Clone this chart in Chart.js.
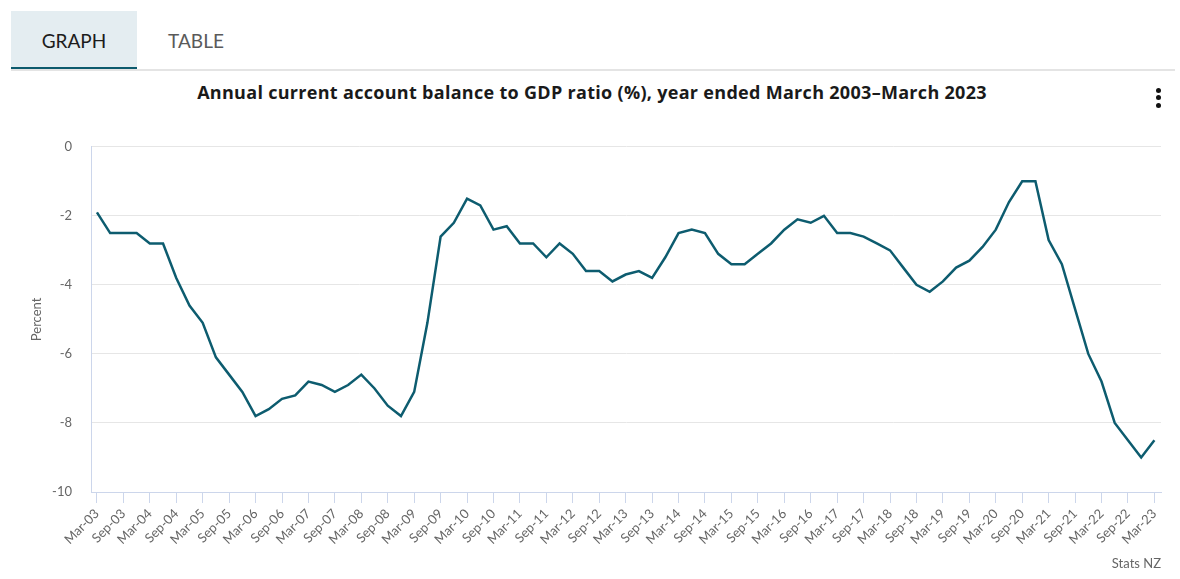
<!DOCTYPE html>
<html>
<head>
<meta charset="utf-8">
<script src="https://cdn.jsdelivr.net/npm/chart.js@4"></script>
<style>
  body { margin: 0; background: #fff; font-family: Lato, "Open Sans", sans-serif; }
  #divider { position: absolute; left: 11px; top: 69px; width: 1164px; height: 2px; background: #e4e4e4; }
  .tab { position: absolute; top: 11px; height: 56px; line-height: 60px; font-size: 19px; text-align: center; }
  #tabGraph { left: 11px; width: 126px; background: #e4edf1; color: #1c1c1c; border-bottom: 3px solid #0c5a6d; }
  #tabTable { left: 137px; width: 118px; color: #5a5a5a; }
  #title { position: absolute; left: 0; top: 80px; width: 1184px; text-align: center; font-family: "Open Sans", sans-serif; font-weight: bold; font-size: 18px; letter-spacing: 0.3px; color: #1a1a1a; }
  .dot { position: absolute; left: 1156px; width: 5px; height: 5px; border-radius: 50%; background: #111; }
  #credit { position: absolute; right: 19px; top: 555px; font-size: 13px; color: #666; }
  #wrap { position: absolute; left: 0; top: 120px; width: 1180px; height: 459px; }
</style>
</head>
<body>
<div class="tab" id="tabGraph">GRAPH</div>
<div class="tab" id="tabTable">TABLE</div>
<div id="divider"></div>
<div id="title">Annual current account balance to GDP ratio (%), year ended March 2003–March 2023</div>
<div class="dot" style="top:88px"></div>
<div class="dot" style="top:95px"></div>
<div class="dot" style="top:103px"></div>
<div id="wrap"><canvas id="chart"></canvas></div>
<div id="credit">Stats NZ</div>

<script>
// quarters, year ended
const quarters = [
  "Mar-03","Jun-03","Sep-03","Dec-03","Mar-04","Jun-04","Sep-04","Dec-04",
  "Mar-05","Jun-05","Sep-05","Dec-05","Mar-06","Jun-06","Sep-06","Dec-06",
  "Mar-07","Jun-07","Sep-07","Dec-07","Mar-08","Jun-08","Sep-08","Dec-08",
  "Mar-09","Jun-09","Sep-09","Dec-09","Mar-10","Jun-10","Sep-10","Dec-10",
  "Mar-11","Jun-11","Sep-11","Dec-11","Mar-12","Jun-12","Sep-12","Dec-12",
  "Mar-13","Jun-13","Sep-13","Dec-13","Mar-14","Jun-14","Sep-14","Dec-14",
  "Mar-15","Jun-15","Sep-15","Dec-15","Mar-16","Jun-16","Sep-16","Dec-16",
  "Mar-17","Jun-17","Sep-17","Dec-17","Mar-18","Jun-18","Sep-18","Dec-18",
  "Mar-19","Jun-19","Sep-19","Dec-19","Mar-20","Jun-20","Sep-20","Dec-20",
  "Mar-21","Jun-21","Sep-21","Dec-21","Mar-22","Jun-22","Sep-22","Dec-22",
  "Mar-23"
];

// percent of GDP
const balance = [
  -1.9, -2.5, -2.5, -2.5, -2.8, -2.8, -3.8, -4.6,
  -5.1, -6.1, -6.6, -7.1, -7.8, -7.6, -7.3, -7.2,
  -6.8, -6.9, -7.1, -6.9, -6.6, -7.0, -7.5, -7.8,
  -7.1, -5.1, -2.6, -2.2, -1.5, -1.7, -2.4, -2.3,
  -2.8, -2.8, -3.2, -2.8, -3.1, -3.6, -3.6, -3.9,
  -3.7, -3.6, -3.8, -3.2, -2.5, -2.4, -2.5, -3.1,
  -3.4, -3.4, -3.1, -2.8, -2.4, -2.1, -2.2, -2.0,
  -2.5, -2.5, -2.6, -2.8, -3.0, -3.5, -4.0, -4.2,
  -3.9, -3.5, -3.3, -2.9, -2.4, -1.6, -1.0, -1.0,
  -2.7, -3.4, -4.7, -6.0, -6.8, -8.0, -8.5, -9.0,
  -8.5
];

// labelled every second quarter
const tickLabels = quarters.filter(q => q.startsWith("Mar") || q.startsWith("Sep"));
const yTicks = [0, -2, -4, -6, -8, -10];

const FONT = "Lato, 'Open Sans', sans-serif";

new Chart(document.getElementById("chart"), {
  type: "line",
  data: {
    datasets: [{
      label: "Current account balance",
      data: balance.map((v, i) => ({x: i, y: v})),
      borderColor: "#0d5c6f",
      borderWidth: 2.5,
      pointRadius: 0,
      tension: 0,
      fill: false
    }]
  },
  options: {
    animation: false,
    responsive: true,
    maintainAspectRatio: false,
    layout: { padding: { top: 26, right: 19, left: 0, bottom: 0 } },
    plugins: { legend: { display: false }, tooltip: { enabled: false } },
    scales: {
      x: {
        type: "linear",
        min: -0.45,
        max: 80.5,
        afterBuildTicks: axis => {
          axis.ticks = tickLabels.map(l => ({ value: quarters.indexOf(l) }));
        },
        afterFit: axis => { axis.height = 87; },
        grid: { drawOnChartArea: false, drawTicks: true, tickLength: 11, color: "#ccd6eb" },
        border: { color: "#ccd6eb" },
        ticks: {
          autoSkip: false,
          maxRotation: 45,
          minRotation: 45,
          padding: 3,
          color: "#666",
          font: { family: FONT, size: 13 },
          callback: v => quarters[v]
        }
      },
      y: {
        min: -10,
        max: 0,
        afterBuildTicks: axis => {
          axis.ticks = yTicks.map(v => ({ value: v }));
        },
        afterFit: axis => { axis.width = 91; },
        grid: { color: "#e6e6e6", drawTicks: false },
        border: { color: "#ccd6eb" },
        ticks: { padding: 19, color: "#666", font: { family: FONT, size: 13 } },
        title: {
          display: true,
          text: "Percent",
          color: "#666",
          font: { family: FONT, size: 13 },
          padding: { top: 29, bottom: 0 }
        }
      }
    }
  }
});
</script>
</body>
</html>
